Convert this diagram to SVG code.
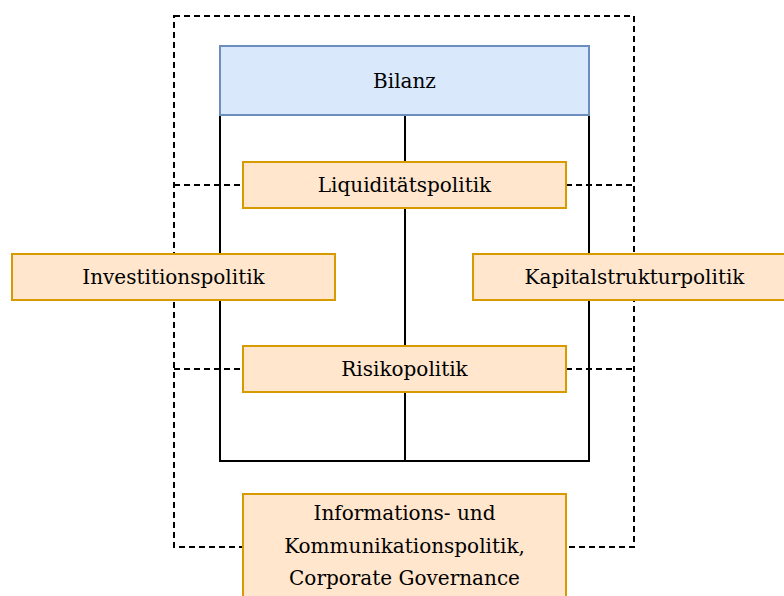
<svg xmlns="http://www.w3.org/2000/svg" width="784" height="596" viewBox="0 0 784 596">
  <style>
    .frame { fill: none; stroke: #000; stroke-width: 2; stroke-dasharray: 6 4; }
    .solid { fill: none; stroke: #000; stroke-width: 2; }
    .blue { fill: #dae8fc; stroke: #6c8ebf; stroke-width: 2; }
    .orange { fill: #ffe6cc; stroke: #d79b00; stroke-width: 2; }
    text { font-family: "Palatino Linotype", "Book Antiqua", Palatino, "DejaVu Serif", serif; font-size: 20px; fill: #000; text-anchor: middle; dominant-baseline: central; }
  </style>
  <rect width="784" height="596" fill="#fff"/>

  <!-- connectors and frame lines -->
  <g id="connectors">
    <rect class="frame" x="174" y="16" width="460" height="531"/>
    <line class="frame" x1="174" y1="185" x2="243" y2="185"/>
    <line class="frame" x1="566" y1="185" x2="634" y2="185"/>
    <line class="frame" x1="174" y1="369" x2="243" y2="369"/>
    <line class="frame" x1="566" y1="369" x2="634" y2="369"/>
    <rect class="solid" x="220" y="115" width="369" height="346"/>
    <line class="solid" x1="405" y1="115" x2="405" y2="461"/>
  </g>

  <g id="bilanz">
    <rect class="blue" x="220" y="46" width="369" height="69"/>
    <text x="404.5" y="81">Bilanz</text>
  </g>

  <g id="liquiditaet">
    <rect class="orange" x="243" y="162" width="323" height="46"/>
    <text x="404.5" y="185">Liquiditätspolitik</text>
  </g>

  <g id="investition">
    <rect class="orange" x="12" y="254" width="323" height="46"/>
    <text x="173.5" y="277">Investitionspolitik</text>
  </g>

  <g id="kapitalstruktur">
    <rect class="orange" x="473" y="254" width="323" height="46"/>
    <text x="634.5" y="277">Kapitalstrukturpolitik</text>
  </g>

  <g id="risiko">
    <rect class="orange" x="243" y="346" width="323" height="46"/>
    <text x="404.5" y="369">Risikopolitik</text>
  </g>

  <g id="information">
    <rect class="orange" x="243" y="494" width="323" height="120"/>
    <text x="404.5" y="513">Informations- und</text>
    <text x="404.5" y="546">Kommunikationspolitik,</text>
    <text x="404.5" y="578">Corporate Governance</text>
  </g>
</svg>
